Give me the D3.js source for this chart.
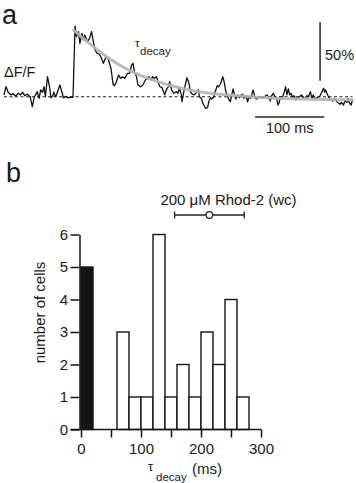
<!DOCTYPE html>
<html>
<head>
<meta charset="utf-8">
<script src="https://cdn.jsdelivr.net/npm/d3@7"></script>
<style>
  body { margin: 0; background: #fff; }
  svg text { font-family: "Liberation Sans", Arial, Helvetica, sans-serif; fill: #1a1a1a; }
</style>
</head>
<body>
<div id="chart"></div>
<script>
// panel a : single transient, time in ms, dF/F in %
const traceTime = [0, 3, 6, 10, 13, 17, 21, 24, 27, 30, 34, 38, 41, 44, 46, 48, 51, 53, 56, 58, 60, 63, 66, 68, 71, 72, 75, 79, 81, 84, 86, 89, 93, 97, 100,
  103, 105, 108, 110, 113, 115, 117, 121, 124, 127, 129, 132, 135, 138, 141, 144, 148, 151, 155, 158, 160, 163, 166, 169, 172, 175, 179, 182, 185, 187, 189, 192, 194, 198,
  201, 205, 208, 210, 213, 215, 217, 221, 223, 226, 229, 233, 235, 238, 240, 243, 246, 250, 252, 254, 257, 258, 261, 265, 268, 270, 273, 276, 279, 282, 283, 286, 288,
  292, 295, 297, 299, 301, 304, 306, 309, 311, 314, 317, 319, 321, 323, 325, 328, 330, 332, 334, 336, 339, 341, 344, 346, 348, 351, 353, 355, 357, 359, 361, 363, 365,
  368, 370, 373, 375, 377, 381, 383, 386, 387, 390, 392, 395, 397, 399, 400, 403, 405, 407, 408, 410, 412, 414, 416, 418, 420, 423, 425, 428, 431, 434, 436, 439, 441,
  444, 446, 448, 450, 453, 457, 459, 461, 463, 465, 466, 469, 471, 474, 476, 479, 483, 487, 489, 492, 494, 497, 499, 500, 503, 505];
const traceDff = [1.5, 8.5, 3.8, 1.5, 2.6, 0.6, 2.9, 1.5, 3.8, 0.9, 2.1, -0.3, -8.5, 0, 1.5, 4.3, -1.4, 5.7, 3.8, 8.5, 0, 17.1, 8.5, -0.9, 0.9, 3.8, 0, 6.6, 10, 3.8, -0.9, 0.3, -0.9, -0.3, -0.5,
  60.4, 51.3, 55.6, 45.6, 54.2, 48.5, 52.7, 47, 49.9, 55.6, 48.5, 39.9, 37.1, 36.5, 33.3, 28.5, 34.2, 32.2, 24.3, 10.6, 9.4, 12.8, 18.5, 15.7, 17.1, 15.7, 20, 20, 27.1, 28.5, 21.4, 17.1, 10, 8.5,
  10, 14.3, 15.7, 17.1, 14.3, 17.1, 15.7, 17.1, 12.8, 8.5, 7.7, 1.5, 5.7, 8.5, 12.8, 5.7, 2.9, 4.3, 2.9, 7.7, 1.5, -4.3, 5.7, 16.2, 11.5, 4.3, 2.1, 1.5, 3.8, 5.7, 0, -1.4, -5.4,
  -9.9, -9.4, -3.7, -0.9, -2, 0, 4.3, 9.4, 8.5, 11.5, 17.1, 12.8, 5.7, 1.5, -1.4, -4.3, 1.5, 6.6, 1.5, -2, 1.5, -0.9, 1.5, 2.1, -1.4, 0, -4.3, 0, -1.4, 1.5, 5.7, 0.9, -2,
  -1.4, 0, 0, -1.4, 0, 1.5, 0, -3.7, 0, 2.9, 0.9, -1.4, -7.1, -4.8, 0, -1.4, 2.1, 5.7, 8.5, 1.5, 6.6, 1.5, 2.9, -0.9, 0.9, -2.8, -0.9, 0, 1.5, -1.4, -1.4, 0.9, 0,
  4.3, -1.4, 1.5, -2, -0.9, 0, 2.1, 4.3, 7.2, 3.8, 5.7, 1.5, -0.9, -2.8, -3.7, -1.4, -4.8, -6.5, -4.8, -7.1, -3.7, -4.8, -1.4, -4.8, -7.1, -2.8];
// exponential fit (grey)
const fitTime = [101, 125, 154, 183, 212, 255, 299, 357, 430, 505];
const fitDff = [57, 45, 32, 22, 15, 7.5, 3, 0, -2, -2.6];

// panel b : histogram of decay time constants
const binStart = [0, 60, 80, 100, 120, 140, 160, 180, 200, 220, 240, 260];
const binCount = [5, 3, 1, 1, 6, 1, 2, 1, 3, 2, 4, 1];
const binWidth = 20;
const xTicks = [0, 50, 100, 150, 200, 250, 300];
const xTickLabels = ["0", "", "100", "", "200", "", "300"];
const yTicks = [0, 1, 2, 3, 4, 5, 6];
const rhodMean = 214;
const rhodSd = 58;

const width = 356;
const height = 483;

const SVG = d3.select("#chart").append("svg")
    .attr("width", width)
    .attr("height", height);

// ---------- panel a ----------
const xA = d3.scaleLinear().domain([0, 505]).range([4, 352.5]);
const yA = d3.scaleLinear().domain([0, 50]).range([96.7, 38.2]);

SVG.append("text").attr("x", 2).attr("y", 24).attr("font-size", 27).text("a");

// baseline
SVG.append("line")
    .attr("x1", xA(0)).attr("x2", xA(505))
    .attr("y1", yA(0)).attr("y2", yA(0))
    .attr("stroke", "#222").attr("stroke-width", 1.1)
    .attr("stroke-dasharray", "3,2.5");

const trace = traceTime.map((t, i) => [t, traceDff[i]]);
const fit = fitTime.map((t, i) => [t, fitDff[i]]);

SVG.append("path")
    .datum(trace)
    .attr("fill", "none")
    .attr("stroke", "#111")
    .attr("stroke-width", 1.3)
    .attr("stroke-linejoin", "round")
    .attr("d", d3.line().x(d => xA(d[0])).y(d => yA(d[1])));

SVG.append("path")
    .datum(fit)
    .attr("fill", "none")
    .attr("stroke", "#b4b4b4")
    .attr("stroke-width", 3)
    .attr("stroke-linecap", "round")
    .attr("opacity", 0.9)
    .attr("d", d3.line().curve(d3.curveMonotoneX).x(d => xA(d[0])).y(d => yA(d[1])));

// scale bars : 50 % and 100 ms
SVG.append("line")
    .attr("x1", xA(458)).attr("x2", xA(458))
    .attr("y1", yA(13.7)).attr("y2", yA(63.7))
    .attr("stroke", "#222").attr("stroke-width", 1.5);
SVG.append("text").attr("x", 325).attr("y", 60).attr("font-size", 14.5).text("50%");

SVG.append("line")
    .attr("x1", xA(364)).attr("x2", xA(464))
    .attr("y1", yA(-17.4)).attr("y2", yA(-17.4))
    .attr("stroke", "#222").attr("stroke-width", 1.5);
SVG.append("text").attr("x", xA(414)).attr("y", 133).attr("font-size", 14.5)
    .attr("text-anchor", "middle").text("100 ms");

SVG.append("text").attr("x", 4).attr("y", 77).attr("font-size", 14.5).text("\u0394F/F");

SVG.append("text").attr("x", 135).attr("y", 47).attr("font-size", 11.5).text("\u03c4");
SVG.append("text").attr("x", 140).attr("y", 55).attr("font-size", 11.5).text("decay");

// ---------- panel b ----------
const x = d3.scaleLinear().domain([0, 300]).range([81, 261]);
const y = d3.scaleLinear().domain([0, 6]).range([429.5, 234.5]);

SVG.append("text").attr("x", 6).attr("y", 182).attr("font-size", 27).text("b");

SVG.selectAll(".bar")
    .data(binStart)
    .enter().append("rect")
    .attr("class", "bar")
    .attr("x", d => x(d))
    .attr("y", (d, i) => y(binCount[i]))
    .attr("width", x(binWidth) - x(0))
    .attr("height", (d, i) => y(0) - y(binCount[i]))
    .attr("fill", (d, i) => i == 0 ? "#141414" : "#fff")
    .attr("stroke", "#141414")
    .attr("stroke-width", 1.4);

const yAxis = SVG.append("g")
    .attr("transform", `translate(${x(0) - 1.5},0)`)
    .call(d3.axisLeft(y).tickValues(yTicks).tickFormat(d3.format("d"))
        .tickSize(9).tickSizeOuter(0).tickPadding(2.5));

const xAxis = SVG.append("g")
    .attr("transform", `translate(0,${y(0)})`)
    .call(d3.axisBottom(x).tickValues(xTicks).tickFormat((d, i) => xTickLabels[i])
        .tickSize(8).tickSizeOuter(0).tickPadding(6));
xAxis.select(".domain").remove();
SVG.append("line")
    .attr("x1", x(0) - 10.5).attr("x2", x(300))
    .attr("y1", y(0)).attr("y2", y(0))
    .attr("stroke", "#141414").attr("stroke-width", 1.5);

[xAxis, yAxis].forEach(g => {
  g.selectAll("line").attr("stroke", "#141414").attr("stroke-width", 1.5);
  g.selectAll(".domain").attr("stroke", "#141414").attr("stroke-width", 1.5);
  g.selectAll("text").attr("font-size", 15).attr("font-family", null).attr("fill", "#1a1a1a");
});

SVG.append("text")
    .attr("transform", "translate(45,312.5) rotate(-90)")
    .attr("text-anchor", "middle")
    .attr("font-size", 15)
    .text("number of cells");

SVG.append("text").attr("x", 148).attr("y", 471).attr("font-size", 13).text("\u03c4");
SVG.append("text").attr("x", 156).attr("y", 481).attr("font-size", 11.5).text("decay");
SVG.append("text").attr("x", 192).attr("y", 474).attr("font-size", 15).text("(ms)");

// Rhod-2 mean +- sd
const rhodY = 215;
SVG.append("text").attr("x", 228.5).attr("y", 205).attr("font-size", 15)
    .attr("text-anchor", "middle").text("200 \u03bcM Rhod-2 (wc)");
SVG.append("line")
    .attr("x1", x(rhodMean - rhodSd)).attr("x2", x(rhodMean + rhodSd))
    .attr("y1", rhodY).attr("y2", rhodY)
    .attr("stroke", "#222").attr("stroke-width", 1.3);
[rhodMean - rhodSd, rhodMean + rhodSd].forEach(v => {
  SVG.append("line")
      .attr("x1", x(v)).attr("x2", x(v))
      .attr("y1", rhodY - 3.5).attr("y2", rhodY + 3.5)
      .attr("stroke", "#222").attr("stroke-width", 1.3);
});
SVG.append("circle")
    .attr("cx", x(rhodMean)).attr("cy", rhodY).attr("r", 3.3)
    .attr("fill", "#fff").attr("stroke", "#222").attr("stroke-width", 1.2);
</script>
</body>
</html>
